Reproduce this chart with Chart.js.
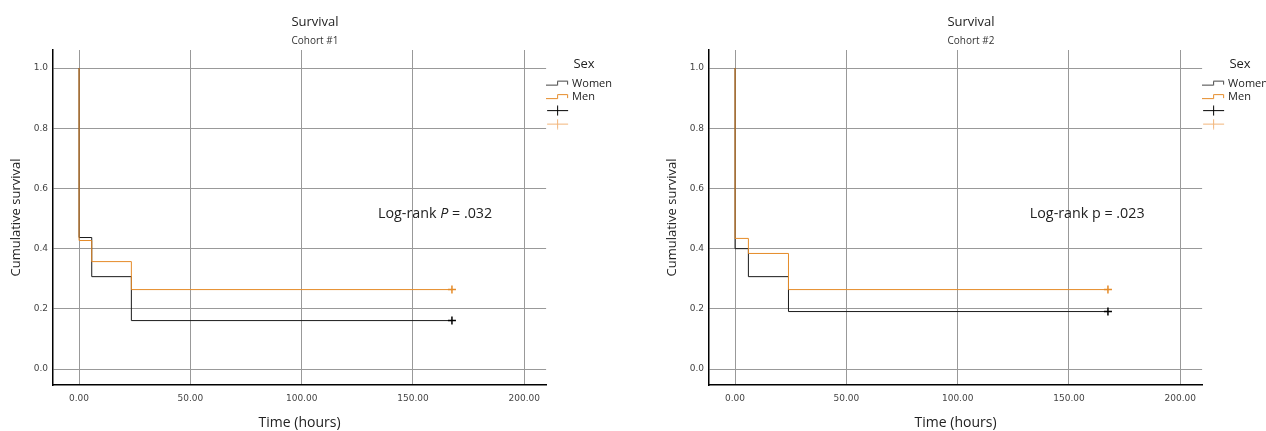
<!DOCTYPE html>
<html lang="en">
<head>
    <meta charset="UTF-8">
    <title>Survival by Sex</title>
    <script src="https://cdn.jsdelivr.net/npm/chart.js"></script>
    <style>
        html, body { margin: 0; padding: 0; background: #fff; }
        body { width: 1266px; height: 431px; position: relative; overflow: hidden; }
        .panel { position: absolute; top: 0; width: 633px; height: 431px; }
    </style>
</head>
<body>
    <div class="panel" style="left: 0;"><canvas id="cohort1"></canvas></div>
    <div class="panel" style="left: 656px;"><canvas id="cohort2"></canvas></div>
    <script>
        // Kaplan-Meier steps (time in hours, cumulative survival)
        const cohort1Time = [0, 0, 5.7, 23.5, 167.5];
        const cohort1Women = [1, 0.437, 0.307, 0.161, 0.161];
        const cohort1Men = [1, 0.427, 0.357, 0.264, 0.264];

        const cohort2Time = [0, 0, 6, 24, 167.5];
        const cohort2Women = [1, 0.400, 0.307, 0.191, 0.191];
        const cohort2Men = [1, 0.434, 0.384, 0.264, 0.264];

        // censored observations (time, survival)
        const cohort1CensorWomen = [[167.5, 0.161]];
        const cohort1CensorMen = [[167.5, 0.264]];
        const cohort2CensorWomen = [[167.5, 0.191]];
        const cohort2CensorMen = [[167.5, 0.264]];

        const xTicks = [0, 50, 100, 150, 200];
        const yTicks = [0, 0.2, 0.4, 0.6, 0.8, 1.0];
        const legendNames = ['Women', 'Men', '', ''];

        const FONT = '"Open Sans", Lato, sans-serif';
        const TICK_FONT = '"DejaVu Sans", Verdana, sans-serif';
        const WOMEN = '#1a1a1a';
        const MEN = '#e58b28';
        const MEN_LIGHT = '#f2b57a';

        function stepIcon(color) {
            const c = document.createElement('canvas');
            c.width = 23; c.height = 10;
            const g = c.getContext('2d');
            g.strokeStyle = color; g.lineWidth = 1;
            g.beginPath();
            g.moveTo(0, 6.5); g.lineTo(11.5, 6.5); g.lineTo(11.5, 2.5);
            g.lineTo(21.5, 2.5); g.lineTo(21.5, 6);
            g.stroke();
            return c;
        }

        function crossIcon(color) {
            const c = document.createElement('canvas');
            c.width = 23; c.height = 11;
            const g = c.getContext('2d');
            g.strokeStyle = color; g.lineWidth = 1;
            g.beginPath();
            g.moveTo(1, 5.5); g.lineTo(22, 5.5);
            g.moveTo(11.5, 0.5); g.lineTo(11.5, 10.5);
            g.stroke();
            return c;
        }

        const legendIcons = [stepIcon('#444'), stepIcon(MEN), crossIcon('#000'), crossIcon(MEN_LIGHT)];

        const pLabel = {
            id: 'pLabel',
            afterDraw(chart, args, opts) {
                const ctx = chart.ctx;
                let x = chart.scales.x.getPixelForValue(opts.x);
                const y = chart.scales.y.getPixelForValue(opts.y);
                ctx.save();
                ctx.fillStyle = '#222';
                ctx.textBaseline = 'middle';
                opts.parts.forEach(([text, italic]) => {
                    ctx.font = (italic ? 'italic ' : '') + '14.3px ' + FONT;
                    ctx.fillText(text, x, y);
                    x += ctx.measureText(text).width;
                });
                ctx.restore();
            }
        };

        function toPoints(times, values) {
            return times.map((t, i) => ({ x: t, y: values[i] }));
        }

        function makeChart(id, subtitle, times, women, men, censorWomen, censorMen, label) {
            return new Chart(document.getElementById(id), {
                type: 'line',
                data: {
                    datasets: [
                        {
                            label: 'Men',
                            data: toPoints(times, men),
                            borderColor: MEN,
                            borderWidth: 1,
                            stepped: 'before',
                            pointRadius: 0,
                            order: 1,
                        },
                        {
                            label: 'Women',
                            data: toPoints(times, women),
                            borderColor: WOMEN,
                            borderWidth: 1,
                            stepped: 'before',
                            pointRadius: 0,
                            order: 2,
                        },
                        {
                            label: 'Men censored',
                            data: censorMen.map(([x, y]) => ({ x, y })),
                            showLine: false,
                            pointStyle: 'cross',
                            pointRadius: 4,
                            borderColor: MEN,
                            borderWidth: 1.5,
                            order: 0,
                        },
                        {
                            label: 'Women censored',
                            data: censorWomen.map(([x, y]) => ({ x, y })),
                            showLine: false,
                            pointStyle: 'cross',
                            pointRadius: 4,
                            borderColor: '#000',
                            borderWidth: 1.5,
                            order: 0,
                        },
                    ],
                },
                options: {
                    responsive: false,
                    animation: false,
                    layout: { padding: { left: 8, right: 11, bottom: 0 } },
                    plugins: {
                        title: {
                            display: true,
                            text: 'Survival',
                            color: '#222',
                            font: { family: FONT, size: 13, weight: 'normal', lineHeight: 1.2 },
                            padding: { top: 14, bottom: 2.4 },
                        },
                        subtitle: {
                            display: true,
                            text: subtitle,
                            color: '#333',
                            font: { family: FONT, size: 10, lineHeight: 1.2 },
                            padding: { top: 3, bottom: 3 },
                        },
                        legend: {
                            position: 'right',
                            align: 'start',
                            fullSize: false,
                            title: {
                                display: true,
                                text: 'Sex',
                                color: '#222',
                                font: { family: FONT, size: 13 },
                                padding: { top: 8, bottom: 2 },
                            },
                            labels: {
                                usePointStyle: true,
                                pointStyleWidth: 18,
                                boxHeight: 10,
                                padding: 2.5,
                                color: '#222',
                                font: { family: FONT, size: 11, lineHeight: 1.05 },
                                generateLabels: () => legendNames.map((name, i) => ({
                                    text: name,
                                    pointStyle: legendIcons[i],
                                    fillStyle: 'transparent',
                                    strokeStyle: 'transparent',
                                    lineWidth: 0,
                                    hidden: false,
                                    datasetIndex: i,
                                })),
                            },
                        },
                        tooltip: { enabled: false },
                        pLabel: label,
                    },
                    scales: {
                        x: {
                            type: 'linear',
                            min: -11.7,
                            max: 209.8,
                            afterBuildTicks: (s) => { s.ticks = xTicks.map(v => ({ value: v })); },
                            afterFit: (s) => { s.height = 46; },
                            grid: { color: '#999', lineWidth: 1, drawTicks: false },
                            border: { color: '#000', width: 1.5 },
                            ticks: {
                                padding: 8,
                                color: '#444',
                                font: { family: TICK_FONT, size: 9 },
                                maxRotation: 0,
                                callback: (v) => Number(v).toFixed(2),
                            },
                            title: {
                                display: true,
                                text: 'Time (hours)',
                                color: '#222',
                                font: { family: FONT, size: 14 },
                                padding: { top: 0, bottom: 0 },
                            },
                        },
                        y: {
                            type: 'linear',
                            min: -0.053,
                            max: 1.06,
                            afterBuildTicks: (s) => { s.ticks = yTicks.map(v => ({ value: v })); },
                            afterFit: (s) => { s.width = 45; },
                            grid: { color: '#999', lineWidth: 1, drawTicks: false },
                            border: { color: '#000', width: 1.5 },
                            ticks: {
                                padding: 5,
                                color: '#444',
                                font: { family: TICK_FONT, size: 9 },
                                callback: (v) => Number(v).toFixed(1),
                            },
                            title: {
                                display: true,
                                text: 'Cumulative survival',
                                color: '#222',
                                font: { family: FONT, size: 13 },
                                padding: { top: 0, bottom: 0 },
                            },
                        },
                    },
                },
                plugins: [pLabel],
            });
        }

        const canvas1 = document.getElementById('cohort1');
        const canvas2 = document.getElementById('cohort2');
        [canvas1, canvas2].forEach(c => { c.width = 633; c.height = 431; c.style.width = '633px'; c.style.height = '431px'; });

        makeChart('cohort1', 'Cohort #1', cohort1Time, cohort1Women, cohort1Men,
            cohort1CensorWomen, cohort1CensorMen,
            { x: 134.3, y: 0.515, parts: [['Log-rank ', false], ['P', true], [' = .032', false]] });
        makeChart('cohort2', 'Cohort #2', cohort2Time, cohort2Women, cohort2Men,
            cohort2CensorWomen, cohort2CensorMen,
            { x: 132.4, y: 0.515, parts: [['Log-rank p = .023', false]] });
    </script>
</body>
</html>
